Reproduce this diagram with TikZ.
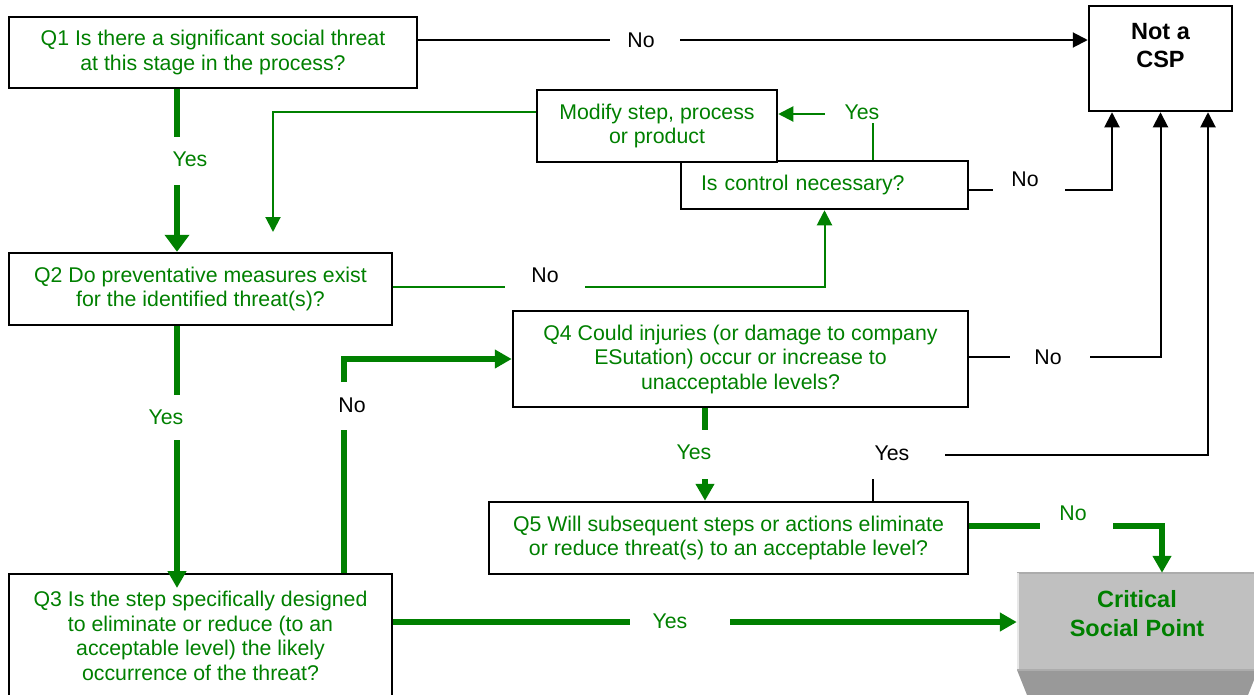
\documentclass[tikz,border=0pt]{standalone}
\usepackage{fontspec}
\setmainfont{Liberation Sans}
\usetikzlibrary{arrows.meta}
\definecolor{grn}{RGB}{0,128,0}
\definecolor{cspface}{RGB}{192,192,192}
\definecolor{cspbevel}{RGB}{153,153,153}
\definecolor{csptop}{RGB}{172,172,172}
\definecolor{cspleft}{RGB}{232,232,232}
\tikzset{
  qbox/.style={draw=black, line width=2.5pt, text=grn, align=center, inner sep=0pt,
    font=\fontsize{21.3}{24.5}\selectfont, fill=white},
  lbl/.style={inner sep=0pt, font=\fontsize{21.3}{24.5}\selectfont},
  thk/.style={draw=grn, line width=6pt},
  thng/.style={draw=grn, line width=2pt},
  thnk/.style={draw=black, line width=2pt},
  bigtip/.style={-{Triangle[length=17pt,width=18pt]}},
  smtip/.style={-{Triangle[length=15pt,width=15pt]}},
}
\begin{document}
\begin{tikzpicture}[x=1pt,y=-1pt]
\useasboundingbox (0,0) rectangle (1254,694);
\clip (0,0) rectangle (1254,694);

% boxes
\node[qbox, minimum width=408pt, minimum height=71pt] (q1) at (213,52.5)
  {Q1 Is there a significant social threat\\at this stage in the process?};
\node[draw=black, line width=2.5pt, fill=white, minimum width=143pt, minimum height=105pt, inner sep=0pt] (ncsp) at (1160.5,58.5) {};
\node[lbl, font=\bfseries\fontsize{23.5}{28}\selectfont, align=center, anchor=north] (ncspt) at (1160.5,23) {Not a\\CSP};
\node[qbox, minimum height=48pt, inner xsep=20pt, text width=247pt, align=left] (ctl) at (824.5,185) {Is control necessary?};
\node[qbox, minimum width=240pt, minimum height=72pt] (mod) at (657,126) {Modify step, process\\or product};
\node[qbox, minimum width=383pt, minimum height=72pt] (q2) at (200.5,289)
  {Q2 Do preventative measures exist\\for the identified threat(s)?};
\node[qbox, minimum width=455pt, minimum height=96pt] (q4) at (740.5,359)
  {Q4 Could injuries (or damage to company\\ESutation) occur or increase to\\unacceptable levels?};
\node[qbox, minimum width=479pt, minimum height=72pt] (q5) at (728.5,538)
  {Q5 Will subsequent steps or actions eliminate\\or reduce threat(s) to an acceptable level?};
\node[qbox, minimum width=383pt, minimum height=124pt] (q3) at (200.5,636)
  {Q3 Is the step specifically designed\\to eliminate or reduce (to an\\acceptable level) the likely\\occurrence of the threat?};

% critical social point (bevelled block)
\fill[cspbevel] (1017,670) -- (1258,670) -- (1246,700) -- (1029,700) -- cycle;
\node[fill=cspface, minimum width=240pt, minimum height=97pt, inner sep=0pt] (csp) at (1137,621.5) {};
\draw[csptop, line width=2.5pt] (csp.north west) -- (csp.north east);
\draw[cspleft, line width=2pt] ([xshift=1pt]csp.north west) -- ([xshift=1pt]csp.south west);
\draw[csptop, line width=1.5pt] (csp.south west) -- (csp.south east);
\node[lbl, text=grn, font=\bfseries\fontsize{23.5}{29}\selectfont, align=center] (cspt) at (1137,614) {Critical\\Social Point};

% gap coordinates
\coordinate (g1a) at (610,40);   \coordinate (g1b) at (680,40);
\coordinate (g2a) at (177,137);  \coordinate (g2b) at (177,185);
\coordinate (m2)  at (273,232);
\coordinate (g4a) at (873,123);  \coordinate (g4b) at (825,114);
\coordinate (g5a) at (993,190);  \coordinate (g5b) at (1065,190);
\coordinate (g6a) at (505,287);  \coordinate (g6b) at (585,287);
\coordinate (g7a) at (177,395);  \coordinate (g7b) at (177,440);
\coordinate (t7)  at (177,588);
\coordinate (g8a) at (344,430);  \coordinate (g8b) at (344,382);
\coordinate (g9a) at (1010,357); \coordinate (g9b) at (1090,357);
\coordinate (g10a) at (705,430); \coordinate (g10b) at (705,479);
\coordinate (g11a) at (873,479); \coordinate (g11b) at (945,455);
\coordinate (g12a) at (1040,526); \coordinate (g12b) at (1113,526);
\coordinate (g13a) at (630,622); \coordinate (g13b) at (730,622);

% labels
\node[lbl] (no1) at (641,40) {No};
\node[lbl, text=grn] (yes1) at (190,159) {Yes};
\node[lbl, text=grn] (yes2) at (862,112) {Yes};
\node[lbl] (no2) at (1025,179) {No};
\node[lbl] (no3) at (545,275) {No};
\node[lbl, text=grn] (yes3) at (166,417) {Yes};
\node[lbl] (no4) at (352,405) {No};
\node[lbl] (no5) at (1048,357) {No};
\node[lbl, text=grn] (yes4) at (694,452) {Yes};
\node[lbl] (yes5) at (892,453) {Yes};
\node[lbl, text=grn] (no6) at (1073,513) {No};
\node[lbl, text=grn] (yes6) at (670,621) {Yes};

% connectors
\draw[thnk] (q1.east |- g1a) -- (g1a);
\draw[thnk, smtip] (g1b) -- (ncsp.west |- g1b);

\draw[thk] (q1.south -| g2a) -- (g2a);
\draw[thk, -{Triangle[length=17pt,width=24pt]}] (g2b) -- (q2.north -| g2b);

\draw[thng, smtip] ([yshift=14pt]mod.west) -| (m2);

\draw[thng] (ctl.north -| g4a) -- (g4a);
\draw[thng, smtip] (g4b) -- (mod.east |- g4b);

\draw[thnk] (ctl.east |- g5a) -- (g5a);
\draw[thnk, smtip] (g5b) -| ([xshift=-48.5pt]ncsp.south);

\draw[thng] (q2.east |- g6a) -- (g6a);
\draw[thng, smtip] (g6b) -| (ctl.south);

\draw[thk] (q2.south -| g7a) -- (g7a);
\draw[thk, bigtip] (g7b) -- (t7);

\draw[thk] (q3.north -| g8a) -- (g8a);
\draw[thk, bigtip] (g8b) |- (q4.west);

\draw[thnk] (q4.east |- g9a) -- (g9a);
\draw[thnk, smtip] (g9b) -| (ncsp.south);

\draw[thk] (q4.south -| g10a) -- (g10a);
\draw[thk, bigtip] (g10b) -- (q5.north -| g10b);

\draw[thnk] (q5.north -| g11a) -- (g11a);
\draw[thnk, smtip] (g11b) -| ([xshift=47.5pt]ncsp.south);

\draw[thk] (q5.east |- g12a) -- (g12a);
\draw[thk, bigtip] (g12b) -| ([xshift=25pt]csp.north);

\draw[thk] (q3.east |- g13a) -- (g13a);
\draw[thk, bigtip] (g13b) -- (csp.west |- g13b);
\end{tikzpicture}
\end{document}
